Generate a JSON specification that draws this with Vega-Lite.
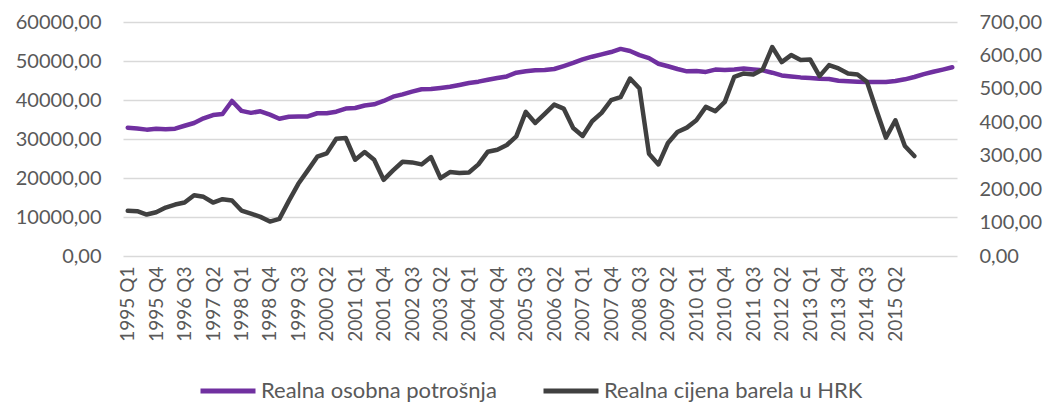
{
  "$schema": "https://vega.github.io/schema/vega-lite/v6.json",
  "width": 834,
  "height": 234,
  "autosize": {"type": "none"},
  "padding": {"left": 123, "top": 22, "right": 92, "bottom": 149},
  "background": "white",
  "config": {
    "font": "Lato",
    "view": {"stroke": null},
    "axis": {"labelFont": "Lato", "labelColor": "#595959", "labelFontSize": 20, "ticks": false, "domain": false, "title": null}
  },
  "data": {"values": [
    {"q":"1995 Q1","cons":32900,"oil":135},{"q":"1995 Q2","cons":32700,"oil":134},{"q":"1995 Q3","cons":32400,"oil":124},{"q":"1995 Q4","cons":32650,"oil":131},
    {"q":"1996 Q1","cons":32500,"oil":145},{"q":"1996 Q2","cons":32650,"oil":154},{"q":"1996 Q3","cons":33400,"oil":160},{"q":"1996 Q4","cons":34100,"oil":182},
    {"q":"1997 Q1","cons":35300,"oil":177},{"q":"1997 Q2","cons":36150,"oil":160},{"q":"1997 Q3","cons":36400,"oil":170},{"q":"1997 Q4","cons":39750,"oil":166},
    {"q":"1998 Q1","cons":37200,"oil":136},{"q":"1998 Q2","cons":36700,"oil":127},{"q":"1998 Q3","cons":37100,"oil":117},{"q":"1998 Q4","cons":36250,"oil":103},
    {"q":"1999 Q1","cons":35200,"oil":111},{"q":"1999 Q2","cons":35700,"oil":165},{"q":"1999 Q3","cons":35800,"oil":216},{"q":"1999 Q4","cons":35800,"oil":256},
    {"q":"2000 Q1","cons":36600,"oil":297},{"q":"2000 Q2","cons":36600,"oil":307},{"q":"2000 Q3","cons":37000,"oil":351},{"q":"2000 Q4","cons":37800,"oil":353},
    {"q":"2001 Q1","cons":37950,"oil":288},{"q":"2001 Q2","cons":38600,"oil":311},{"q":"2001 Q3","cons":38900,"oil":288},{"q":"2001 Q4","cons":39750,"oil":228},
    {"q":"2002 Q1","cons":40850,"oil":256},{"q":"2002 Q2","cons":41450,"oil":282},{"q":"2002 Q3","cons":42150,"oil":280},{"q":"2002 Q4","cons":42750,"oil":274},
    {"q":"2003 Q1","cons":42800,"oil":296},{"q":"2003 Q2","cons":43100,"oil":233},{"q":"2003 Q3","cons":43400,"oil":251},{"q":"2003 Q4","cons":43850,"oil":248},
    {"q":"2004 Q1","cons":44350,"oil":250},{"q":"2004 Q2","cons":44700,"oil":274},{"q":"2004 Q3","cons":45200,"oil":312},{"q":"2004 Q4","cons":45650,"oil":318},
    {"q":"2005 Q1","cons":46050,"oil":332},{"q":"2005 Q2","cons":47000,"oil":358},{"q":"2005 Q3","cons":47350,"oil":431},{"q":"2005 Q4","cons":47600,"oil":398},
    {"q":"2006 Q1","cons":47700,"oil":425},{"q":"2006 Q2","cons":47950,"oil":453},{"q":"2006 Q3","cons":48700,"oil":441},{"q":"2006 Q4","cons":49500,"oil":383},
    {"q":"2007 Q1","cons":50400,"oil":359},{"q":"2007 Q2","cons":51100,"oil":403},{"q":"2007 Q3","cons":51700,"oil":428},{"q":"2007 Q4","cons":52300,"oil":466},
    {"q":"2008 Q1","cons":53100,"oil":475},{"q":"2008 Q2","cons":52550,"oil":531},{"q":"2008 Q3","cons":51500,"oil":501},{"q":"2008 Q4","cons":50750,"oil":306},
    {"q":"2009 Q1","cons":49300,"oil":274},{"q":"2009 Q2","cons":48650,"oil":338},{"q":"2009 Q3","cons":47950,"oil":371},{"q":"2009 Q4","cons":47350,"oil":384},
    {"q":"2010 Q1","cons":47450,"oil":406},{"q":"2010 Q2","cons":47200,"oil":446},{"q":"2010 Q3","cons":47800,"oil":433},{"q":"2010 Q4","cons":47700,"oil":461},
    {"q":"2011 Q1","cons":47800,"oil":536},{"q":"2011 Q2","cons":48050,"oil":546},{"q":"2011 Q3","cons":47850,"oil":543},{"q":"2011 Q4","cons":47600,"oil":558},
    {"q":"2012 Q1","cons":47000,"oil":625},{"q":"2012 Q2","cons":46300,"oil":580},{"q":"2012 Q3","cons":46050,"oil":601},{"q":"2012 Q4","cons":45800,"oil":586},
    {"q":"2013 Q1","cons":45650,"oil":588},{"q":"2013 Q2","cons":45450,"oil":538},{"q":"2013 Q3","cons":45400,"oil":571},{"q":"2013 Q4","cons":44950,"oil":561},
    {"q":"2014 Q1","cons":44800,"oil":546},{"q":"2014 Q2","cons":44700,"oil":543},{"q":"2014 Q3","cons":44600,"oil":521},{"q":"2014 Q4","cons":44600,"oil":436},
    {"q":"2015 Q1","cons":44600,"oil":354},{"q":"2015 Q2","cons":44850,"oil":406},{"q":"2015 Q3","cons":45300,"oil":329},{"q":"2015 Q4","cons":45900,"oil":299},
    {"q":"2016 Q1","cons":46650,"oil":null},{"q":"2016 Q2","cons":47250,"oil":null},{"q":"2016 Q3","cons":47800,"oil":null},{"q":"2016 Q4","cons":48400,"oil":null}
  ]},
  "encoding": {
    "x": {
      "field": "q", "type": "ordinal", "sort": null,
      "scale": {"type": "point", "padding": 0.5},
      "axis": {
        "values": ["1995 Q1","1995 Q4","1996 Q3","1997 Q2","1998 Q1","1998 Q4","1999 Q3","2000 Q2","2001 Q1","2001 Q4","2002 Q3","2003 Q2","2004 Q1","2004 Q4","2005 Q3","2006 Q2","2007 Q1","2007 Q4","2008 Q3","2009 Q2","2010 Q1","2010 Q4","2011 Q3","2012 Q2","2013 Q1","2013 Q4","2014 Q3","2015 Q2"],
        "labelAngle": -90, "labelPadding": 10, "grid": false, "labelFontSize": 19
      }
    }
  },
  "layer": [
    {
      "mark": {"type": "line", "strokeWidth": 4.5, "strokeJoin": "round", "strokeCap": "round"},
      "encoding": {
        "y": {
          "field": "cons", "type": "quantitative",
          "scale": {"domain": [0, 60000], "nice": false},
          "axis": {"orient": "left", "values": [0,10000,20000,30000,40000,50000,60000], "grid": true, "gridColor": "#D9D9D9", "gridWidth": 1.3, "labelPadding": 22,
                   "labelExpr": "replace(format(datum.value, '.2f'), '.', ',')"}
        },
        "color": {"datum": "Realna osobna potrošnja", "type": "nominal",
          "scale": {"domain": ["Realna osobna potrošnja", "Realna cijena barela u HRK"], "range": ["#7030A0", "#404040"]},
          "legend": {"orient": "none", "legendX": 75, "legendY": 339, "direction": "horizontal", "title": null,
                     "symbolType": "stroke", "symbolSize": 3025, "symbolStrokeWidth": 5, "labelFont": "Lato", "labelFontSize": 22,
                     "labelColor": "#595959", "labelOffset": 3, "labelLimit": 400, "columnPadding": 36}}
      }
    },
    {
      "transform": [{"filter": "datum.oil != null"}],
      "mark": {"type": "line", "strokeWidth": 4.5, "strokeJoin": "round", "strokeCap": "round"},
      "encoding": {
        "y": {
          "field": "oil", "type": "quantitative",
          "scale": {"domain": [0, 700], "nice": false},
          "axis": {"orient": "right", "values": [0,100,200,300,400,500,600,700], "grid": false, "labelPadding": 22,
                   "labelExpr": "replace(format(datum.value, '.2f'), '.', ',')"}
        },
        "color": {"datum": "Realna cijena barela u HRK", "type": "nominal"}
      }
    }
  ],
  "resolve": {"scale": {"y": "independent"}}
}
